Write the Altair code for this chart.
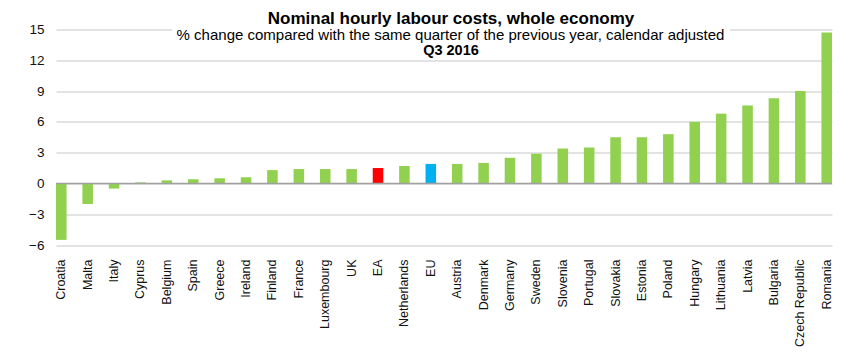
import altair as alt
import pandas as pd

countries = ["Croatia", "Malta", "Italy", "Cyprus", "Belgium", "Spain", "Greece", "Ireland",
             "Finland", "France", "Luxembourg", "UK", "EA", "Netherlands", "EU", "Austria",
             "Denmark", "Germany", "Sweden", "Slovenia", "Portugal", "Slovakia", "Estonia",
             "Poland", "Hungary", "Lithuania", "Latvia", "Bulgaria", "Czech Republic", "Romania"]
values = [-5.5, -2.0, -0.5, 0.1, 0.3, 0.4, 0.5, 0.6,
          1.3, 1.4, 1.4, 1.4, 1.5, 1.7, 1.9, 1.9,
          2.0, 2.5, 2.9, 3.4, 3.5, 4.5, 4.5,
          4.8, 6.0, 6.8, 7.6, 8.3, 9.0, 14.7]
groups = ["EA" if c == "EA" else "EU" if c == "EU" else "Member" for c in countries]
y_ticks = [-6, -3, 0, 3, 6, 9, 12, 15]

title_text = "Nominal hourly labour costs, whole economy"
subtitle_text = "% change compared with the same quarter of the previous year, calendar adjusted"
period_text = "Q3 2016"

FONT = "Liberation Sans"

df = pd.DataFrame({"country": countries, "value": values, "group": groups})

x_enc = alt.X("country:N", sort=countries,
              scale=alt.Scale(paddingInner=0.6, paddingOuter=0.0),
              axis=alt.Axis(title=None, labelAngle=-90, ticks=False, domain=False,
                            labelPadding=14, labelFont=FONT, labelFontSize=12.5,
                            labelColor="#111111", labelOverlap=False, labelLimit=300))
y_scale = alt.Scale(domain=[-6, 15], nice=False, zero=False)
y_axis = alt.Axis(title=None, values=y_ticks, grid=True, gridColor="#c8c8c8",
                  gridWidth=1.2, ticks=False, domain=False, labelPadding=12,
                  labelFont=FONT, labelFontSize=13.5, labelColor="#111111",
                  labelOverlap=False)

bars = alt.Chart(df).mark_bar().encode(
    x=x_enc,
    y=alt.Y("value:Q", scale=y_scale, axis=y_axis),
    color=alt.Color("group:N",
                    scale=alt.Scale(domain=["Member", "EA", "EU"],
                                    range=["#92D050", "#FF0000", "#00B0F0"]),
                    legend=None),
)

zero = alt.Chart(pd.DataFrame({"value": [0]})).mark_rule(color="#a0a0a0", strokeWidth=1.5).encode(
    y=alt.Y("value:Q", scale=y_scale, axis=y_axis)
)

mask = alt.Chart(pd.DataFrame({"k": [0]})).mark_rect(color="white").encode(
    x=alt.value(116), x2=alt.value(674), y=alt.value(-3), y2=alt.value(27)
)

t1 = alt.Chart(pd.DataFrame({"t": [title_text]})).mark_text(
    font=FONT, fontSize=17, fontWeight="bold", color="#000000", align="center",
    baseline="alphabetic").encode(text="t:N", x=alt.value(395), y=alt.value(-6))
t2 = alt.Chart(pd.DataFrame({"t": [subtitle_text]})).mark_text(
    font=FONT, fontSize=15, color="#000000", align="center",
    baseline="alphabetic").encode(text="t:N", x=alt.value(394.5), y=alt.value(10.5))
t3 = alt.Chart(pd.DataFrame({"t": [period_text]})).mark_text(
    font=FONT, fontSize=14.5, fontWeight="bold", color="#000000", align="center",
    baseline="alphabetic").encode(text="t:N", x=alt.value(395), y=alt.value(25.5))

chart = alt.layer(bars, zero, mask, t1, t2, t3).properties(
    width=776, height=215.5,
    autosize=alt.AutoSizeParams(type="none"),
    padding={"left": 48, "top": 21.5, "right": 10, "bottom": 102},
).configure_view(stroke=None)

chart.save("out.html", embed_options={"renderer": "svg", "actions": False})
